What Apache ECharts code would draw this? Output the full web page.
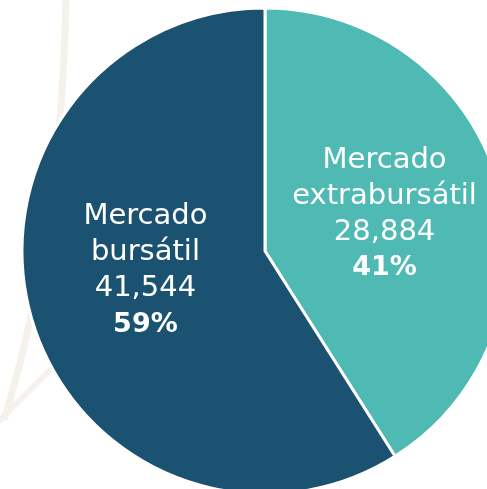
<!DOCTYPE html>
<html>
<head>
<meta charset="utf-8">
<script src="https://cdn.jsdelivr.net/npm/echarts@6/dist/echarts.min.js"></script>
<style>
  html, body { margin: 0; padding: 0; background: #ffffff; }
  #chart { width: 487px; height: 489px; }
</style>
</head>
<body>
<div id="chart"></div>
<script>
  // mercados
  const categories = ['Mercado\nextrabursátil', 'Mercado\nbursátil']
  const values = [28884, 41544]
  const percents = ['41%', '59%']
  const colors = ['#4fb9b3', '#1b5272']

  const chart = echarts.init(document.getElementById('chart'))

  const data = categories.map((name, i) => ({
    name: name,
    value: values[i],
    itemStyle: { color: colors[i] },
    label: i === 1 ? { padding: [0, 0, 30, 0] } : { padding: [0, 0, 4, 0] }
  }))

  const option = {
    backgroundColor: '#ffffff',
    animation: false,
    // faint decorative strokes in the background
    graphic: [
      {
        type: 'bezierCurve', z: -10,
        shape: { x1: 66, y1: -5, cpx1: 62, cpy1: 230, x2: 4, y2: 420 },
        style: { stroke: '#f5f2eb', lineWidth: 7, fill: null }
      },
      {
        type: 'line', z: -10,
        shape: { x1: -5, y1: 425, x2: 52, y2: 368 },
        style: { stroke: '#f5f2eb', lineWidth: 6 }
      }
    ],
    series: [
      {
        type: 'pie',
        center: [265, 251],
        radius: 243,
        startAngle: 90,
        clockwise: true,
        itemStyle: { borderColor: '#ffffff', borderWidth: 3 },
        label: {
          position: 'inside',
          color: '#ffffff',
          fontFamily: 'DejaVu Sans',
          fontSize: 29,
          lineHeight: 36,
          formatter: function (p) {
            return p.name + '\n' + p.value.toLocaleString('en-US') + '\n{b|' + percents[p.dataIndex] + '}'
          },
          rich: {
            b: { fontSize: 27, fontWeight: 'bold', color: '#ffffff', lineHeight: 36, fontFamily: 'DejaVu Sans' }
          }
        },
        labelLine: { show: false },
        data: data
      }
    ]
  }

  chart.setOption(option)
</script>
</body>
</html>
